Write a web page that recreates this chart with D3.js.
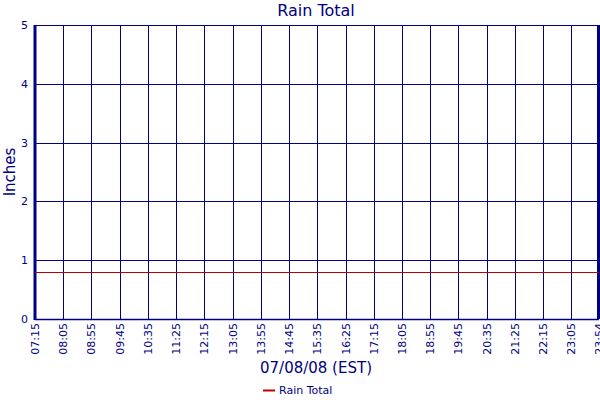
<!DOCTYPE html>
<html>
<head>
<meta charset="utf-8">
<script src="https://cdn.jsdelivr.net/npm/d3@7"></script>
<style>
  body { margin: 0; background: #fff; }
  text { font-family: "DejaVu Sans", Verdana, sans-serif; fill: #000080; }
</style>
</head>
<body>
<div id="chart"></div>
<script>
// Rain Total, 07/08/08 (EST)
const tickLabels = ['07:15', '08:05', '08:55', '09:45', '10:35', '11:25', '12:15', '13:05', '13:55', '14:45',
  '15:35', '16:25', '17:15', '18:05', '18:55', '19:45', '20:35', '21:25', '22:15', '23:05', '23:54'];
const sampleTimes = ['07:15', '09:45', '12:15', '14:45', '17:15', '19:45', '22:15', '23:54'];
const rainValues = [0.8, 0.8, 0.8, 0.8, 0.8, 0.8, 0.8, 0.8];
const yTicks = [0, 1, 2, 3, 4, 5];

const W = 600, H = 400;
const m = { left: 35, right: 1, top: 25, bottom: 81 };
const parse = d3.timeParse('%H:%M');

const svg = d3.select('#chart').append('svg').attr('width', W).attr('height', H);

const x = d3.scaleTime()
  .domain([parse(tickLabels[0]), parse(tickLabels[tickLabels.length - 1])])
  .range([m.left, W - m.right]);
const y = d3.scaleLinear().domain([0, 5]).range([H - m.bottom, m.top]);

// grid
const grid = svg.append('g').attr('stroke', '#000080').attr('stroke-width', 1).attr('shape-rendering', 'crispEdges');
grid.selectAll('.gx').data(tickLabels).enter().append('line')
  .attr('x1', d => Math.round(x(parse(d))) + 0.5).attr('x2', d => Math.round(x(parse(d))) + 0.5)
  .attr('y1', y(5)).attr('y2', y(0));
grid.selectAll('.gy').data(yTicks).enter().append('line')
  .attr('x1', m.left).attr('x2', W - m.right)
  .attr('y1', d => Math.round(y(d)) + 0.5).attr('y2', d => Math.round(y(d)) + 0.5);

// heavy frame edges
svg.append('line').attr('x1', m.left).attr('x2', m.left).attr('y1', y(5)).attr('y2', y(0) + 1)
  .attr('stroke', '#000080').attr('stroke-width', 3);
svg.append('line').attr('x1', W - m.right - 0.5).attr('x2', W - m.right - 0.5).attr('y1', y(5)).attr('y2', y(0))
  .attr('stroke', '#000080').attr('stroke-width', 3);
svg.append('line').attr('x1', m.left).attr('x2', W - m.right).attr('y1', y(0) + 0.5).attr('y2', y(0) + 0.5)
  .attr('stroke', '#000080').attr('stroke-width', 1.5);

// series
const line = d3.line().x(d => x(parse(d[0]))).y(d => Math.round(y(d[1])) + 0.5);
svg.append('path').datum(d3.zip(sampleTimes, rainValues))
  .attr('d', line).attr('fill', 'none').attr('stroke', '#c00000').attr('stroke-width', 1)
  .attr('shape-rendering', 'crispEdges');

// y axis labels
svg.selectAll('.yl').data(yTicks).enter().append('text')
  .attr('x', 28).attr('y', d => y(d) + 4).attr('text-anchor', 'end')
  .attr('font-size', 11).text(d => d);

// x axis labels
svg.selectAll('.xl').data(tickLabels).enter().append('text')
  .attr('transform', d => `translate(${x(parse(d)) + 4},${y(0) + 4}) rotate(-90)`)
  .attr('text-anchor', 'end').attr('font-size', 11).text(d => d);

// titles
svg.append('text').attr('x', 316).attr('y', 16).attr('text-anchor', 'middle')
  .attr('font-size', 16).text('Rain Total');
svg.append('text').attr('x', 316).attr('y', 373).attr('text-anchor', 'middle')
  .attr('font-size', 15).text('07/08/08 (EST)');
svg.append('text').attr('transform', `translate(15,${(y(0) + y(5)) / 2}) rotate(-90)`)
  .attr('text-anchor', 'middle').attr('font-size', 15).text('Inches');

// legend
svg.append('line').attr('x1', 263).attr('x2', 275).attr('y1', 390.5).attr('y2', 390.5)
  .attr('stroke', '#c00000').attr('stroke-width', 2);
svg.append('text').attr('x', 279).attr('y', 394).attr('font-size', 11).text('Rain Total');
</script>
</body>
</html>
